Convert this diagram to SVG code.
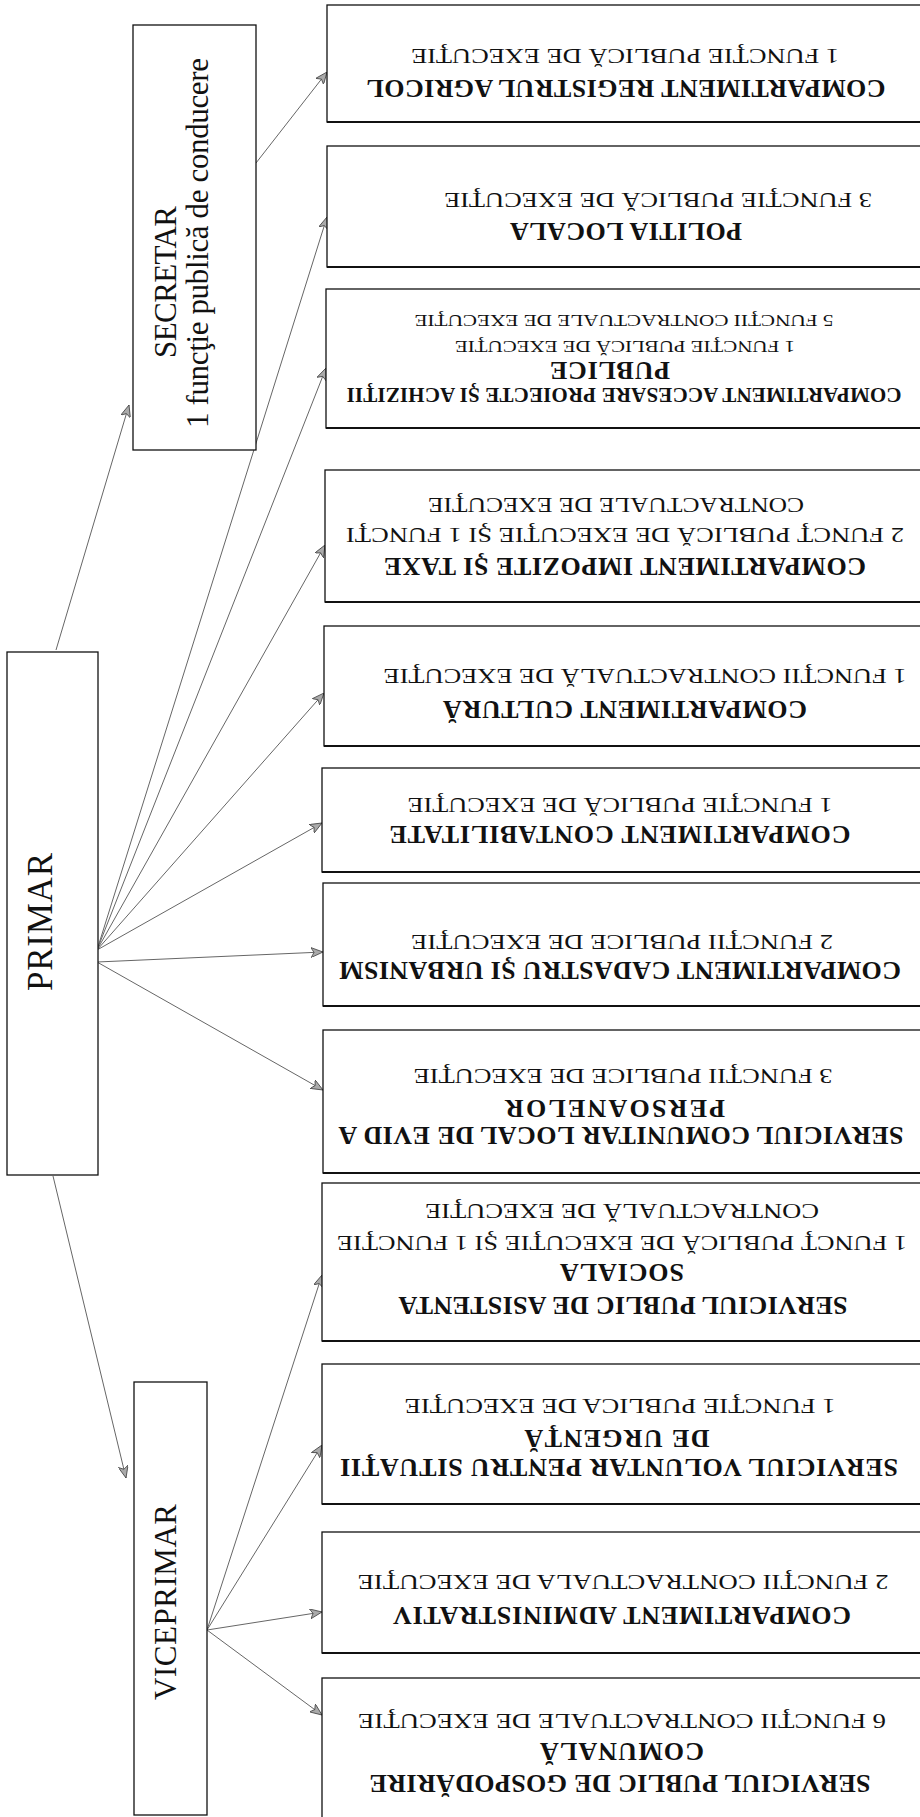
<svg xmlns="http://www.w3.org/2000/svg" width="920" height="1817" viewBox="0 0 920 1817">
<style>
.box{fill:#fff;stroke:#111;stroke-width:1.3}
.bot{stroke:#111;stroke-width:2.2}
.ln{stroke:#666;stroke-width:1;fill:none}
.b{font-family:"Liberation Serif","Times New Roman",serif;font-weight:bold;font-size:26px;text-anchor:middle;dominant-baseline:central;fill:#111}
.n{font-family:"Liberation Serif","Times New Roman",serif;font-size:20px;text-anchor:middle;dominant-baseline:central;fill:#111}
.bs{font-size:21px}
.ns{font-size:17px}
.l{font-family:"Liberation Serif","Times New Roman",serif;font-size:31px;text-anchor:middle;fill:#111}
.lp{font-size:35px}
</style>
<defs>
<marker id="ah" viewBox="0 0 12 10" refX="12" refY="5" markerWidth="12" markerHeight="10" markerUnits="userSpaceOnUse" orient="auto">
<path d="M0,0 L12,5 L0,10 L3,5 z" fill="#aaa" stroke="#444" stroke-width="0.8"/>
</marker>
</defs>
<rect width="920" height="1817" fill="#fff"/>

<g id="connectors">
<line class="ln" x1="56" y1="650" x2="129" y2="405" marker-end="url(#ah)"/>
<line class="ln" x1="256" y1="163" x2="327" y2="72" marker-end="url(#ah)"/>
<line class="ln" x1="97" y1="950" x2="327" y2="217" marker-end="url(#ah)"/>
<line class="ln" x1="97" y1="950" x2="326" y2="368" marker-end="url(#ah)"/>
<line class="ln" x1="97" y1="950" x2="325" y2="545" marker-end="url(#ah)"/>
<line class="ln" x1="97" y1="950" x2="324" y2="693" marker-end="url(#ah)"/>
<line class="ln" x1="97" y1="950" x2="322" y2="823" marker-end="url(#ah)"/>
<line class="ln" x1="97" y1="962" x2="323" y2="952" marker-end="url(#ah)"/>
<line class="ln" x1="97" y1="962" x2="323" y2="1090" marker-end="url(#ah)"/>
<line class="ln" x1="53" y1="1176" x2="126" y2="1478" marker-end="url(#ah)"/>
<line class="ln" x1="207" y1="1630" x2="322" y2="1275" marker-end="url(#ah)"/>
<line class="ln" x1="207" y1="1630" x2="322" y2="1445" marker-end="url(#ah)"/>
<line class="ln" x1="207" y1="1630" x2="322" y2="1612" marker-end="url(#ah)"/>
<line class="ln" x1="207" y1="1630" x2="322" y2="1715" marker-end="url(#ah)"/>
</g>

<g id="secretar">
<rect class="box" x="133" y="25" width="123" height="425"/>
<text class="l" transform="translate(176 282) rotate(-90)" textLength="152">SECRETAR</text>
<text class="l" transform="translate(208 243) rotate(-90)" textLength="370">1 funcţie publică de conducere</text>
</g>

<g id="primar">
<rect class="box" x="7" y="652" width="91" height="523"/>
<text class="l lp" transform="translate(52 922) rotate(-90)" textLength="138">PRIMAR</text>
</g>

<g id="viceprimar">
<rect class="box" x="134" y="1382" width="73" height="433"/>
<text class="l" transform="translate(176 1602) rotate(-90)" textLength="196">VICEPRIMAR</text>
</g>

<g id="registrul-agricol">
<rect class="box" x="327" y="5" width="620" height="117"/>
<line class="bot" x1="327" y1="122" x2="920" y2="122"/>
<text class="b" transform="translate(626 88) rotate(180)" textLength="519">COMPARTIMENT REGISTRUL AGRICOL</text>
<text class="n" transform="translate(625 56) rotate(180)" textLength="428" lengthAdjust="spacingAndGlyphs">1 FUNCŢIE PUBLICĂ DE EXECUŢIE</text>
</g>

<g id="politia-locala">
<rect class="box" x="327" y="146" width="620" height="121"/>
<line class="bot" x1="327" y1="267" x2="920" y2="267"/>
<text class="b" transform="translate(626 231) rotate(180)" textLength="232">POLITIA LOCALA</text>
<text class="n" transform="translate(658 200) rotate(180)" textLength="428" lengthAdjust="spacingAndGlyphs">3 FUNCŢIE PUBLICĂ DE EXECUŢIE</text>
</g>

<g id="accesare-proiecte">
<rect class="box" x="326" y="289" width="620" height="139"/>
<line class="bot" x1="326" y1="428" x2="920" y2="428"/>
<text class="b bs" transform="translate(624 395) rotate(180)" textLength="555">COMPARTIMENT ACCESARE PROIECTE ŞI ACHIZIŢII</text>
<text class="b" transform="translate(610 370) rotate(180)" textLength="120">PUBLICE</text>
<text class="n ns" transform="translate(625 346) rotate(180)" textLength="340" lengthAdjust="spacingAndGlyphs">1 FUNCŢIE PUBLICĂ DE EXECUŢIE</text>
<text class="n ns" transform="translate(624 320) rotate(180)" textLength="419" lengthAdjust="spacingAndGlyphs">5 FUNCŢII CONTRACTUALE DE EXECUŢIE</text>
</g>

<g id="impozite-taxe">
<rect class="box" x="325" y="470" width="620" height="132"/>
<line class="bot" x1="325" y1="602" x2="920" y2="602"/>
<text class="b" transform="translate(625 566) rotate(180)" textLength="482">COMPARTIMENT IMPOZITE ŞI TAXE</text>
<text class="n" transform="translate(625 535) rotate(180)" textLength="558" lengthAdjust="spacingAndGlyphs">2 FUNCŢ PUBLICĂ DE EXECUŢIE ŞI 1 FUNCŢI</text>
<text class="n" transform="translate(616 505) rotate(180)" textLength="376" lengthAdjust="spacingAndGlyphs">CONTRACTUALE DE EXECUŢIE</text>
</g>

<g id="cultura">
<rect class="box" x="324" y="626" width="620" height="120"/>
<line class="bot" x1="324" y1="746" x2="920" y2="746"/>
<text class="b" transform="translate(625 709) rotate(180)" textLength="364">COMPARTIMENT CULTURĂ</text>
<text class="n" transform="translate(645 676) rotate(180)" textLength="523" lengthAdjust="spacingAndGlyphs">1 FUNCŢII CONTRACTUALĂ DE EXECUŢIE</text>
</g>

<g id="contabilitate">
<rect class="box" x="322" y="768" width="620" height="104"/>
<line class="bot" x1="322" y1="872" x2="920" y2="872"/>
<text class="b" transform="translate(620 834) rotate(180)" textLength="461">COMPARTIMENT CONTABILITATE</text>
<text class="n" transform="translate(620 805) rotate(180)" textLength="425" lengthAdjust="spacingAndGlyphs">1 FUNCŢIE PUBLICĂ DE EXECUŢIE</text>
</g>

<g id="cadastru-urbanism">
<rect class="box" x="323" y="883" width="620" height="123"/>
<line class="bot" x1="323" y1="1006" x2="920" y2="1006"/>
<text class="b" transform="translate(620 970) rotate(180)" textLength="562">COMPARTIMENT CADASTRU ŞI URBANISM</text>
<text class="n" transform="translate(622 942) rotate(180)" textLength="422" lengthAdjust="spacingAndGlyphs">2 FUNCŢII PUBLICE DE EXECUŢIE</text>
</g>

<g id="evidenta-persoanelor">
<rect class="box" x="323" y="1030" width="620" height="143"/>
<line class="bot" x1="323" y1="1173" x2="920" y2="1173"/>
<text class="b" transform="translate(621 1135) rotate(180)" textLength="565">SERVICIUL COMUNITAR LOCAL DE EVID A</text>
<text class="b" transform="translate(615 1108) rotate(180)" textLength="220">PERSOANELOR</text>
<text class="n" transform="translate(623 1076) rotate(180)" textLength="419" lengthAdjust="spacingAndGlyphs">3 FUNCŢII PUBLICE DE EXECUŢIE</text>
</g>

<g id="asistenta-sociala">
<rect class="box" x="322" y="1183" width="620" height="158"/>
<line class="bot" x1="322" y1="1341" x2="920" y2="1341"/>
<text class="b" transform="translate(623 1305) rotate(180)" textLength="449">SERVICIUL PUBLIC DE ASISTENTA</text>
<text class="b" transform="translate(622 1272) rotate(180)" textLength="124">SOCIALA</text>
<text class="n" transform="translate(622 1243) rotate(180)" textLength="570" lengthAdjust="spacingAndGlyphs">1 FUNCŢ PUBLICĂ DE EXECUŢIE ŞI 1 FUNCŢIE</text>
<text class="n" transform="translate(622 1211) rotate(180)" textLength="394" lengthAdjust="spacingAndGlyphs">CONTRACTUALĂ DE EXECUŢIE</text>
</g>

<g id="situatii-urgenta">
<rect class="box" x="322" y="1364" width="620" height="140"/>
<line class="bot" x1="322" y1="1504" x2="920" y2="1504"/>
<text class="b" transform="translate(619 1467) rotate(180)" textLength="558">SERVICIUL VOLUNTAR PENTRU SITUAŢII</text>
<text class="b" transform="translate(617 1438) rotate(180)" textLength="185">DE URGENŢĂ</text>
<text class="n" transform="translate(620 1406) rotate(180)" textLength="431" lengthAdjust="spacingAndGlyphs">1 FUNCŢIE PUBLICA DE EXECUŢIE</text>
</g>

<g id="administrativ">
<rect class="box" x="322" y="1532" width="620" height="121"/>
<line class="bot" x1="322" y1="1653" x2="920" y2="1653"/>
<text class="b" transform="translate(622 1615) rotate(180)" textLength="458">COMPARTIMENT ADMINISTRATIV</text>
<text class="n" transform="translate(623 1582) rotate(180)" textLength="531" lengthAdjust="spacingAndGlyphs">2 FUNCŢII CONTRACTUALA DE EXECUŢIE</text>
</g>

<g id="gospodarire-comunala">
<rect class="box" x="322" y="1678" width="620" height="170"/>
<text class="b" transform="translate(620 1783) rotate(180)" textLength="501">SERVICIUL PUBLIC DE GOSPODĂRIRE</text>
<text class="b" transform="translate(622 1751) rotate(180)" textLength="164">COMUNALĂ</text>
<text class="n" transform="translate(622 1721) rotate(180)" textLength="528" lengthAdjust="spacingAndGlyphs">6 FUNCŢII CONTRACTUALE DE EXECUŢIE</text>
</g>
</svg>
